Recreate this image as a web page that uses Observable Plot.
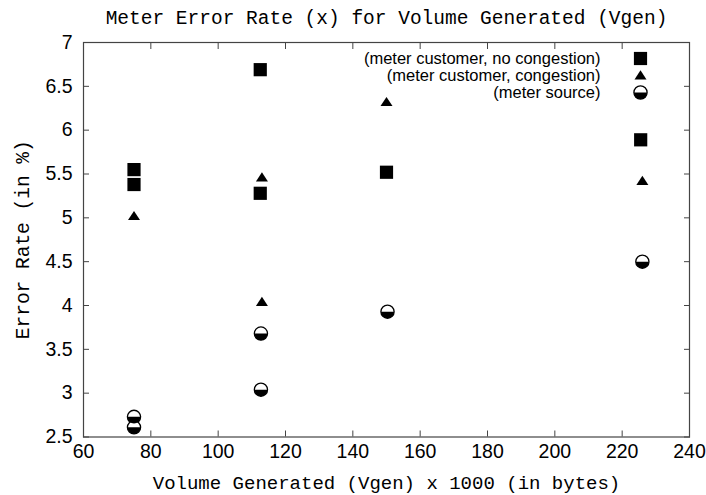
<!DOCTYPE html>
<html><head><meta charset="utf-8">
<script src="https://cdn.jsdelivr.net/npm/d3@7"></script>
<script src="https://cdn.jsdelivr.net/npm/@observablehq/plot@0.6"></script>
<style>body{margin:0;background:#fff}</style>
</head><body><div id="chart"></div>
<script>
const titleText = "Meter Error Rate (x) for Volume Generated (Vgen)";
const xLabel = "Volume Generated (Vgen) x 1000 (in bytes)";
const yLabel = "Error Rate (in %)";
const seriesNames = ["(meter customer, no congestion)", "(meter customer, congestion)", "(meter source)"];
const xTicks = [60, 80, 100, 120, 140, 160, 180, 200, 220, 240];
const yTicks = [2.5, 3, 3.5, 4, 4.5, 5, 5.5, 6, 6.5, 7];

const noCongX = [75, 75, 112.5, 112.5, 150, 225.5];
const noCongY = [5.55, 5.38, 6.69, 5.28, 5.52, 5.89];
const congX = [75, 113, 113, 150, 226];
const congY = [5.02, 5.46, 4.04, 6.32, 5.42];
const sourceX = [75, 75, 112.7, 112.7, 150.3, 226];
const sourceY = [2.73, 2.61, 3.68, 3.04, 3.93, 4.5];

const pts = (xs, ys) => xs.map((x, i) => ({x, y: ys[i]}));
const noCong = pts(noCongX, noCongY);
const cong = pts(congX, congY);
const source = pts(sourceX, sourceY);

// custom symbols
const squareSym = {draw(ctx, size) { const s = 6.6; ctx.rect(-s, -s, 2 * s, 2 * s); }};
const triSym = {draw(ctx, size) { ctx.moveTo(0, -5.2); ctx.lineTo(6, 4); ctx.lineTo(-6, 4); ctx.closePath(); }};
const halfSym = {draw(ctx, size) { const r = 6.6; ctx.moveTo(r, 0); ctx.arc(0, 0, r, 0, Math.PI); ctx.closePath(); }};

const axisCol = "#444";
const sans = "Liberation Sans, Arial, Helvetica, sans-serif";
const mono = "Liberation Mono, Courier New, monospace";

const legendMarks = [];
const legendSyms = [squareSym, triSym, null];
seriesNames.forEach((name, i) => {
  const dy = 16 + i * 17;
  legendMarks.push(Plot.text([name], {frameAnchor: "top-right", textAnchor: "end", lineAnchor: "middle", dx: -89, dy, fontSize: 16.5, fontFamily: sans, fill: "#000"}));
  if (i < 2) {
    legendMarks.push(Plot.dot([name], {frameAnchor: "top-right", dx: -49, dy, symbol: legendSyms[i], r: 6, fill: "#000", stroke: "none"}));
  } else {
    legendMarks.push(Plot.dot([name], {frameAnchor: "top-right", dx: -49, dy, r: 6.6, fill: "#fff", stroke: "#000", strokeWidth: 1.3}));
    legendMarks.push(Plot.dot([name], {frameAnchor: "top-right", dx: -49, dy, symbol: halfSym, r: 6, fill: "#000", stroke: "none"}));
  }
});

const tickOnly = {tickSize: -6, tickFormat: () => "", label: null, stroke: axisCol};
const chart = Plot.plot({
  width: 706, height: 495,
  marginLeft: 83, marginRight: 17, marginTop: 42, marginBottom: 58.5,
  x: {domain: [60, 240]},
  y: {domain: [2.5, 7]},
  style: {background: "#fff", fontFamily: sans},
  marks: [
    Plot.frame({stroke: axisCol, strokeWidth: 1.2}),
    Plot.axisX(xTicks, {anchor: "bottom", ...tickOnly}),
    Plot.axisX(xTicks, {anchor: "top", ...tickOnly}),
    Plot.axisY(yTicks, {anchor: "left", ...tickOnly}),
    Plot.axisY(yTicks, {anchor: "right", ...tickOnly}),
    Plot.axisX(xTicks, {anchor: "bottom", tickSize: 0, tickPadding: 7, label: null, fontSize: 19.5, fontFamily: sans, fill: "#000", tickFormat: d => String(d)}),
    Plot.axisY(yTicks, {anchor: "left", tickSize: 0, tickPadding: 11, label: null, fontSize: 19.5, fontFamily: sans, fill: "#000", tickFormat: d => String(d)}),
    Plot.text([titleText], {frameAnchor: "top", textAnchor: "middle", lineAnchor: "middle", dy: -24.5, fontSize: 19.5, fontFamily: mono, fill: "#000"}),
    Plot.text([xLabel], {frameAnchor: "bottom", textAnchor: "middle", lineAnchor: "middle", dy: 45.5, fontSize: 19, fontFamily: mono, fill: "#000"}),
    Plot.text([yLabel], {frameAnchor: "left", textAnchor: "middle", lineAnchor: "middle", dx: -61, rotate: -90, fontSize: 19.5, fontFamily: mono, fill: "#000"}),
    Plot.dot(noCong, {x: "x", y: "y", symbol: squareSym, r: 6, fill: "#000", stroke: "none"}),
    Plot.dot(cong, {x: "x", y: "y", symbol: triSym, r: 6, fill: "#000", stroke: "none"}),
    Plot.dot(source, {x: "x", y: "y", r: 6.6, fill: "#fff", stroke: "#000", strokeWidth: 1.3}),
    Plot.dot(source, {x: "x", y: "y", symbol: halfSym, r: 6, fill: "#000", stroke: "none"}),
    ...legendMarks
  ]
});
document.getElementById("chart").appendChild(chart);
</script>
</body></html>
